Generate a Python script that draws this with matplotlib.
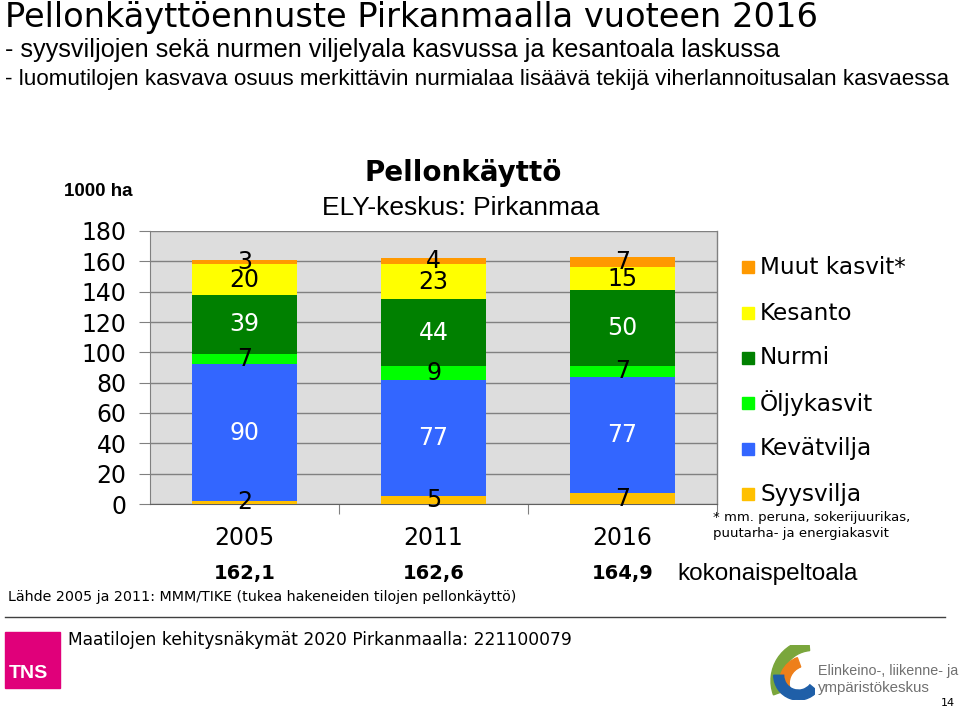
import matplotlib
matplotlib.use("Agg")
import matplotlib.pyplot as plt
import numpy as np
from matplotlib.patches import Rectangle, Wedge

years = ["2005", "2011", "2016"]
totals = ["162,1", "162,6", "164,9"]
series = ["Syysvilja", "Kevätvilja", "Öljykasvit", "Nurmi", "Kesanto", "Muut kasvit*"]
syysvilja = [2, 5, 7]
kevatvilja = [90, 77, 77]
oljykasvit = [7, 9, 7]
nurmi = [39, 44, 50]
kesanto = [20, 23, 15]
muut = [3, 4, 7]
values = [syysvilja, kevatvilja, oljykasvit, nurmi, kesanto, muut]
colors = ["#FFC000", "#3366FF", "#00FF00", "#008000", "#FFFF00", "#FF9900"]
label_colors = ["black", "white", "black", "white", "black", "black"]

W, H = 960, 708
fig = plt.figure(figsize=(W / 100, H / 100), dpi=100)


def fx(px):
    return px / W


def fy(py):
    return 1 - py / H


ax = fig.add_axes([fx(150), fy(504), fx(567), (504 - 231) / H])
ax.set_facecolor("#DDDDDD")
x = np.arange(len(years))
bottom = np.zeros(len(years))
for vals, c, lc in zip(values, colors, label_colors):
    vals = np.array(vals, dtype=float)
    ax.bar(x, vals, width=0.555, bottom=bottom, color=c, zorder=3)
    for xi, b, v in zip(x, bottom, vals):
        ax.text(xi, b + v / 2, f"{int(v)}", ha="center", va="center",
                fontsize=17, color=lc, zorder=4)
    bottom += vals

ax.set_xlim(-0.5, 2.5)
ax.set_ylim(0, 180)
ax.set_yticks(range(0, 181, 20))
ax.tick_params(axis="y", labelsize=17, length=8, color="#808080", pad=9)
ax.set_xticks([0.5, 1.5, 2.5])
ax.set_xticklabels([])
ax.tick_params(axis="x", length=7, color="#808080", direction="out")
ax.yaxis.grid(True, color="#808080", linewidth=1, zorder=0)
for s in ["top", "right"]:
    ax.spines[s].set_visible(False)
ax.spines["left"].set_color("#808080")
ax.spines["bottom"].set_color("#606060")
ax.plot([2.5, 2.5], [0, 180], color="#808080", lw=1, clip_on=False, zorder=2)

for xi, yr, tot in zip(x, years, totals):
    ax.text(xi, -22.4, yr, ha="center", va="center", fontsize=17)
    ax.text(xi, -46, tot, ha="center", va="center", fontsize=14, fontweight="bold")

# titles
fig.text(fx(5), fy(17), "Pellonkäyttöennuste Pirkanmaalla vuoteen 2016", fontsize=24.2,
         va="center", ha="left")
fig.text(fx(5), fy(50), "- syysviljojen sekä nurmen viljelyala kasvussa ja kesantoala laskussa",
         fontsize=18.2, family="Liberation Sans", va="center", ha="left")
fig.text(fx(5), fy(80), "- luomutilojen kasvava osuus merkittävin nurmialaa lisäävä tekijä viherlannoitusalan kasvaessa",
         fontsize=16.1, family="Liberation Sans", va="center", ha="left")
fig.text(fx(463), fy(173), "Pellonkäyttö", fontsize=20, fontweight="bold", ha="center", va="center")
fig.text(fx(461), fy(208), "ELY-keskus: Pirkanmaa", fontsize=19, family="Liberation Sans",
         ha="center", va="center")
fig.text(fx(98), fy(191), "1000 ha", fontsize=13.5, fontweight="bold", family="Liberation Sans",
         ha="center", va="center")

# legend
leg_y = [494, 449, 403, 358, 313, 267]
for name, c, ly in zip(series, colors, leg_y):
    fig.patches.append(Rectangle((fx(742), fy(ly + 6)), fx(12), 12 / H, color=c,
                                 transform=fig.transFigure))
    fig.text(fx(760), fy(ly), name, fontsize=16.7, ha="left", va="center")
fig.text(fx(713), fy(517), "* mm. peruna, sokerijuurikas,", fontsize=9.5, ha="left", va="center")
fig.text(fx(713), fy(534), "puutarha- ja energiakasvit", fontsize=9.5, ha="left", va="center")
fig.text(fx(677), fy(574), "kokonaispeltoala", fontsize=17.5, family="Liberation Sans",
         ha="left", va="center")

fig.text(fx(8), fy(597), "Lähde 2005 ja 2011: MMM/TIKE (tukea hakeneiden tilojen pellonkäyttö)",
         fontsize=10.3, ha="left", va="center")
fig.lines.append(plt.Line2D([fx(5), fx(945)], [fy(617), fy(617)], color="#404040", lw=1,
                            transform=fig.transFigure))
fig.text(fx(68), fy(640), "Maatilojen kehitysnäkymät 2020 Pirkanmaalla: 221100079",
         fontsize=12.3, ha="left", va="center")

# TNS logo
fig.patches.append(Rectangle((fx(5), fy(688)), fx(55), 56 / H, color="#E0007A",
                             transform=fig.transFigure))
fig.text(fx(9), fy(674), "TNS", fontsize=14, fontweight="bold", color="white",
         family="Liberation Sans", ha="left", va="center")

# ELY logo
lax = fig.add_axes([fx(760), fy(700), fx(55), 55 / H])
lax.set_xlim(0, 1)
lax.set_ylim(0, 1)
lax.axis("off")
lax.add_patch(Wedge((0.95, 0.35), 0.75, 95, 200, width=0.2, color="#7AA63C"))
lax.add_patch(Wedge((0.85, 0.3), 0.5, 110, 200, width=0.18, color="#EE7F1A"))
lax.add_patch(Wedge((0.7, 0.45), 0.45, 180, 320, width=0.18, color="#1F5FA8"))
fig.text(fx(818), fy(671), "Elinkeino-, liikenne- ja", fontsize=10.3, color="#707070",
         family="Liberation Sans", ha="left", va="center")
fig.text(fx(818), fy(688), "ympäristökeskus", fontsize=10.8, color="#707070",
         family="Liberation Sans", ha="left", va="center")
fig.text(fx(948), fy(703), "14", fontsize=8, ha="center", va="center")

fig.savefig("out.png", dpi=100)
